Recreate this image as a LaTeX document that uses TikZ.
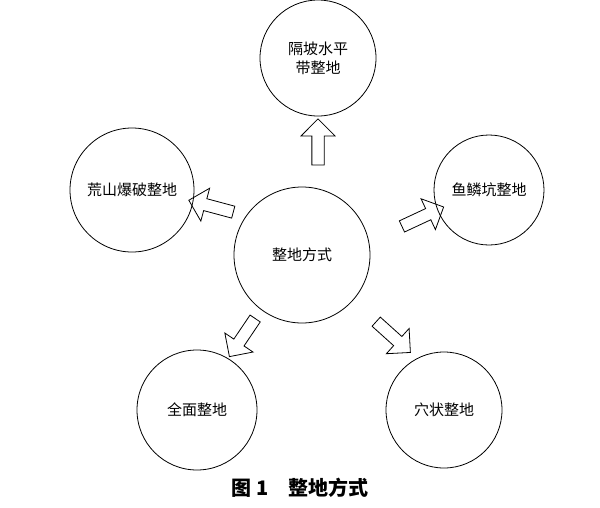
\documentclass[tikz,border=0pt]{standalone}
\usepackage{fontspec}
\setmainfont{Noto Sans CJK SC}
\usetikzlibrary{shapes.arrows}
\begin{document}
\begin{tikzpicture}[x=1pt,y=-1pt,
 every node/.style = {font=\fontsize{15}{19}\selectfont, align=center},
 ring/.style = {circle, draw, thick},
 fat/.style = {single arrow, draw, thick, minimum width=34pt,
   single arrow head extend=6pt, minimum height=46pt, inner sep=3pt}]
 \useasboundingbox (0,0) rectangle (600,507);
 \node (mid) [ring, minimum size=136pt] at (302,255) {整地方式};
 \node (top) [ring, minimum size=116pt] at (318,58) {隔坡水平\\带整地};
 \node (right) [ring, minimum size=110pt] at (489,190) {鱼鳞坑整地};
 \node (left) [ring, minimum size=124pt] at (132,190) {荒山爆破整地};
 \node (low) [ring, minimum size=120pt] at (197,410) {全面整地};
 \node (lowr) [ring, minimum size=116pt] at (444,410) {穴状整地};
 % block arrows
 \node (a1) [fat, rotate=90] at (318,145) {};
 \node (a2) [fat, rotate=165] at (214,207) {};
 \node (a3) [fat, rotate=25] at (420,218) {};
 \node (a4) [fat, rotate=236] at (244,335) {};
 \node (a5) [fat, rotate=-42] at (391,335) {};
 \node (cap) at (300,488) {\bfseries\fontsize{20}{24}\selectfont 图 1\quad 整地方式};
\end{tikzpicture}
\end{document}
